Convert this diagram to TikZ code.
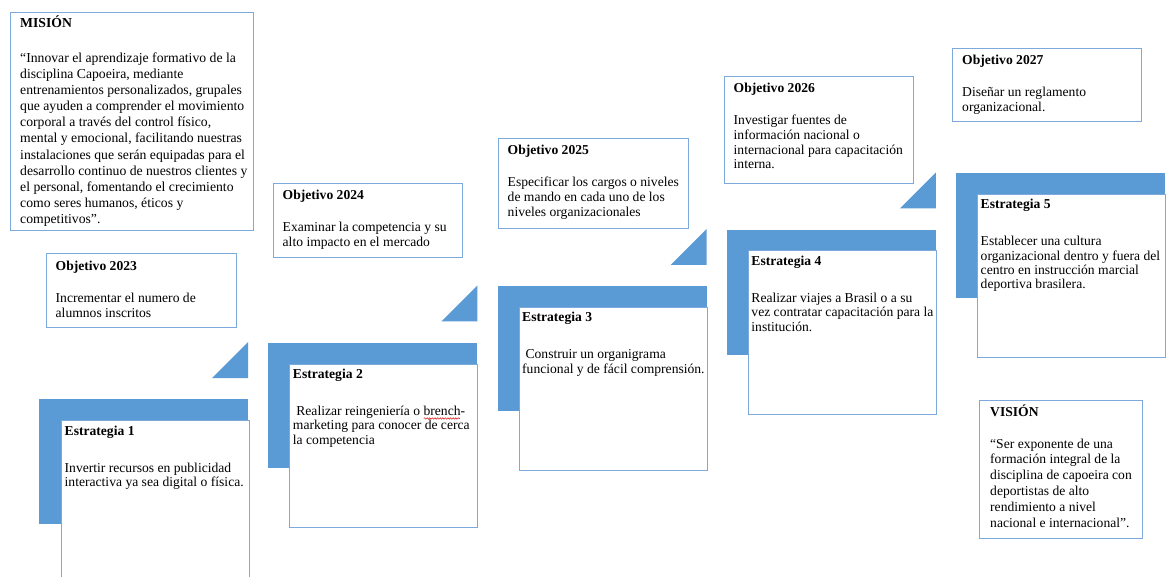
\documentclass[tikz,border=0pt]{standalone}
\usepackage{fontspec}
\setmainfont{Liberation Serif}
\usetikzlibrary{decorations.pathmorphing}
\definecolor{stepblue}{RGB}{91,155,213}
\definecolor{edgeblue}{RGB}{125,170,220}
\definecolor{spellred}{RGB}{220,40,40}
\newcommand{\objtext}[2]{\parbox[t]{220pt}{\fontsize{13.6}{14.8}\selectfont\textbf{#1}\\[17.2pt]#2}}
\newcommand{\stratext}[2]{\parbox[t]{220pt}{\fontsize{13.6}{14.3}\selectfont\textbf{#1}\\[22.7pt]#2}}
\tikzset{
  frame/.style={draw=edgeblue, line width=0.9pt, fill=white, anchor=north west, inner sep=0pt},
  band/.style={fill=stepblue, draw=none, anchor=north west, inner sep=0pt, minimum width=209pt, minimum height=125pt},
  sbox/.style={frame, minimum width=188pt, minimum height=163pt},
  wedge/.style={fill=stepblue, draw=none},
  txt/.style={anchor=base west, inner sep=0pt},
  squiggle/.style={draw=spellred, line width=0.6pt, decorate, decoration={snake, amplitude=0.7pt, segment length=2.6pt}},
}
\begin{document}
\begin{tikzpicture}[x=1pt,y=-1pt]
\useasboundingbox (0,0) rectangle (1170,577);
\clip (0,0) rectangle (1170,577);
\fill[white] (0,0) rectangle (1170,577);
% blue bands
\node[band] (b1) at (39,399) {};
\node[band] (b2) at (268.25,342.5) {};
\node[band] (b3) at (497.5,286) {};
\node[band] (b4) at (726.75,229.5) {};
\node[band] (b5) at (956,173) {};
% wedges
\fill[wedge] (212,378) -- (248,342) -- (248,378) -- cycle;
\fill[wedge] (441.25,321.5) -- (477.25,285.5) -- (477.25,321.5) -- cycle;
\fill[wedge] (670.5,265) -- (706.5,229) -- (706.5,265) -- cycle;
\fill[wedge] (899.75,208.5) -- (935.75,172.5) -- (935.75,208.5) -- cycle;
% strategy boxes
\node[sbox] (s1) at (61,420) {};
\node[sbox] (s2) at (289.25,363.5) {};
\node[sbox] (s3) at (518.5,307) {};
\node[sbox] (s4) at (747.75,250.5) {};
\node[sbox] (s5) at (977,194) {};
% objective boxes
\node[frame, minimum width=190pt, minimum height=74pt] (o1) at (46,253) {};
\node[frame, minimum width=189pt, minimum height=74pt] (o2) at (273,183) {};
\node[frame, minimum width=190pt, minimum height=90pt] (o3) at (498,138) {};
\node[frame, minimum width=189pt, minimum height=107pt] (o4) at (724,76) {};
\node[frame, minimum width=189pt, minimum height=73pt] (o5) at (952,48) {};
% mission and vision
\node[frame, minimum width=243pt, minimum height=218pt] (mis) at (10,12) {};
\node[frame, minimum width=163pt, minimum height=138pt] (vis) at (979,400) {};
% texts
\node[txt] (mist) at ([shift={(10,15.5)}]mis.north west) {\parbox[t]{260pt}{\fontsize{13.7}{16.1}\selectfont\textbf{MISIÓN}\\[18.9pt]%
“Innovar el aprendizaje formativo de la\\
disciplina Capoeira, mediante\\
entrenamientos personalizados, grupales\\
que ayuden a comprender el movimiento\\
corporal a través del control físico,\\
mental y emocional, facilitando nuestras\\
instalaciones que serán equipadas para el\\
desarrollo continuo de nuestros clientes y\\
el personal, fomentando el crecimiento\\
como seres humanos, éticos y\\
competitivos”.}};
\node[txt] (vist) at ([shift={(11,16)}]vis.north west) {\parbox[t]{200pt}{\fontsize{13.6}{15.8}\selectfont\textbf{VISIÓN}\\[16.2pt]%
“Ser exponente de una\\
formación integral de la\\
disciplina de capoeira con\\
deportistas de alto\\
rendimiento a nivel\\
nacional e internacional”.}};
\node[txt] (o1t) at ([shift={(9.5,18)}]o1.north west) {\objtext{Objetivo 2023}{Incrementar el numero de\\alumnos inscritos}};
\node[txt] (o2t) at ([shift={(9.5,17)}]o2.north west) {\objtext{Objetivo 2024}{Examinar la competencia y su\\alto impacto en el mercado}};
\node[txt] (o3t) at ([shift={(9.5,17)}]o3.north west) {\objtext{Objetivo 2025}{Especificar los cargos o niveles\\de mando en cada uno de los\\niveles organizacionales}};
\node[txt] (o4t) at ([shift={(9.5,16.5)}]o4.north west) {\objtext{Objetivo 2026}{Investigar fuentes de\\información nacional o\\internacional para capacitación\\interna.}};
\node[txt] (o5t) at ([shift={(10,16.5)}]o5.north west) {\objtext{Objetivo 2027}{Diseñar un reglamento\\organizacional.}};
\node[txt] (s1t) at ([shift={(3.5,15)}]s1.north west) {\stratext{Estrategia 1}{Invertir recursos en publicidad\\interactiva ya sea digital o física.}};
\node[txt] (s2t) at ([shift={(3.5,15)}]s2.north west) {\stratext{Estrategia 2}{\hspace*{3.4pt}Realizar reingeniería o brench-\\marketing para conocer de cerca\\la competencia}};
\node[txt] (s3t) at ([shift={(3.5,15)}]s3.north west) {\stratext{Estrategia 3}{\hspace*{3.4pt}Construir un organigrama\\funcional y de fácil comprensión.}};
\node[txt] (s4t) at ([shift={(3.5,15)}]s4.north west) {\stratext{Estrategia 4}{Realizar viajes a Brasil o a su\\vez contratar capacitación para la\\institución.}};
\node[txt] (s5t) at ([shift={(3.5,15)}]s5.north west) {\stratext{Estrategia 5}{Establecer una cultura\\organizacional dentro y fuera del\\centro en instrucción marcial\\deportiva brasilera.}};
% spell-check squiggle under "brench"
\coordinate (sqa) at ([shift={(131,40)}]s2t.base west);
\coordinate (sqb) at ([shift={(167,40)}]s2t.base west);
\draw[squiggle] (sqa) -- (sqb);
\end{tikzpicture}
\end{document}
